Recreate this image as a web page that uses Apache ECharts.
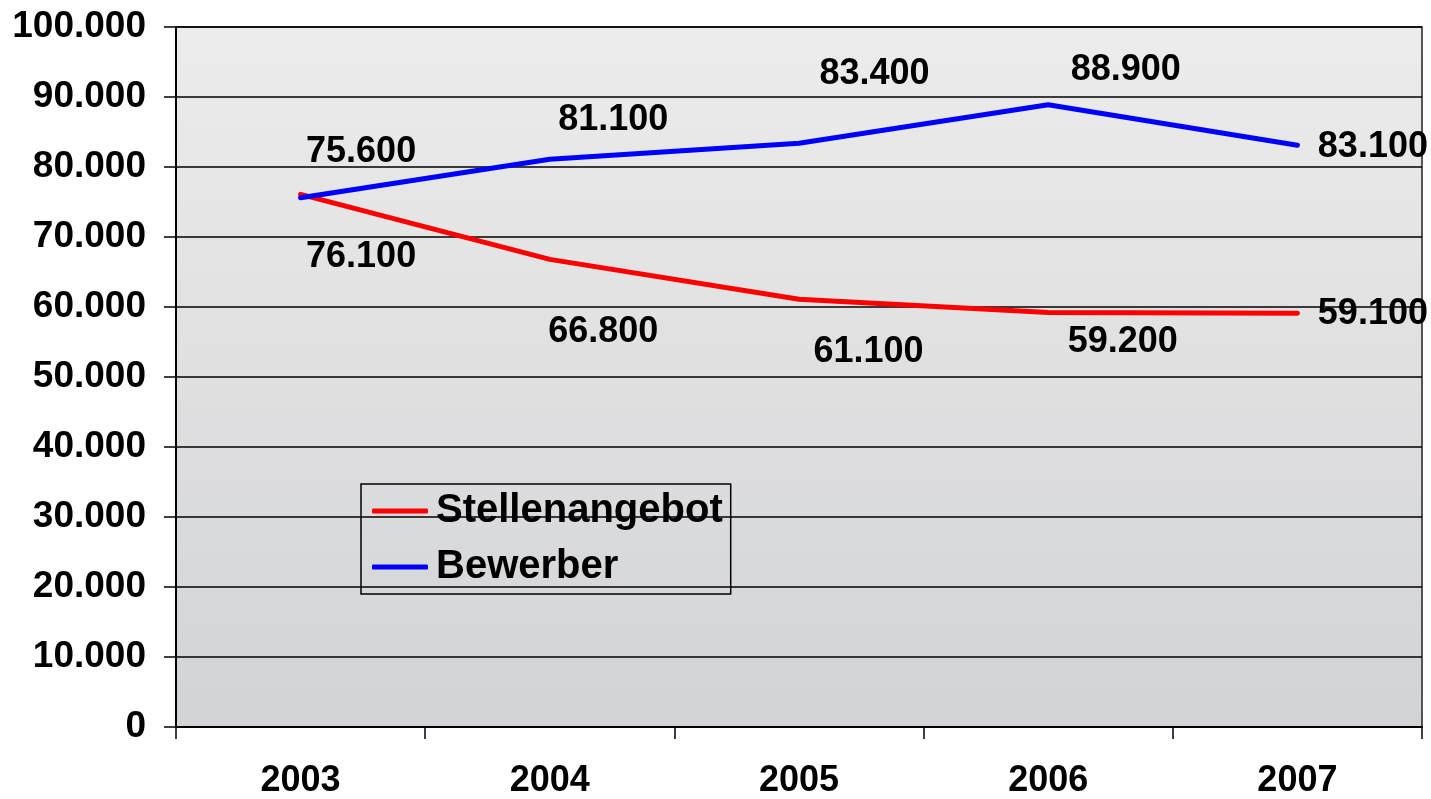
<!DOCTYPE html>
<html>
<head>
<meta charset="utf-8">
<script src="https://cdn.jsdelivr.net/npm/echarts@6/dist/echarts.min.js"></script>
<style>
  html, body { margin: 0; padding: 0; background: #fff; }
  #chart { width: 1431px; height: 799px; }
</style>
</head>
<body>
<div id="chart"></div>
<script>
const years = ['2003', '2004', '2005', '2006', '2007']
const stellenangebot = [76100, 66800, 61100, 59200, 59100]
const bewerber = [75600, 81100, 83400, 88900, 83100]

// where each value label sits, relative to its point (px)
const stellenLabelOffsets = [[61, 63], [54, 73], [70, 53], [75, 30], [76, 1]]
const bewerberLabelOffsets = [[61, -45], [64, -39], [76, -69], [78, -34], [76, 2]]

const FONT = '"Liberation Sans", Arial, sans-serif'

function fmt (v) {
  return v === 0 ? '0' : v.toLocaleString('de-DE')
}

function withLabels (values, offsets) {
  return values.map((v, i) => ({
    value: v,
    label: { offset: offsets[i] }
  }))
}

const chart = echarts.init(document.getElementById('chart'))

const labelStyle = {
  show: true,
  position: [0, 0],
  align: 'center',
  verticalAlign: 'middle',
  color: '#000',
  fontFamily: FONT,
  fontWeight: 'bold',
  fontSize: 36,
  formatter: p => fmt(p.value)
}

chart.setOption({
  animation: false,
  backgroundColor: '#fff',
  grid: {
    left: 176,
    top: 27,
    right: 9,
    bottom: 71,
    show: true,
    borderColor: '#222',
    borderWidth: 1.5,
    backgroundColor: new echarts.graphic.LinearGradient(0, 0, 0, 1, [
      { offset: 0, color: '#ececec' },
      { offset: 1, color: '#d2d3d5' }
    ])
  },
  legend: {
    orient: 'vertical',
    left: 361,
    top: 484,
    padding: [7, 8, 7, 11],
    itemGap: 16,
    itemWidth: 56,
    itemHeight: 5,
    icon: 'roundRect',
    borderColor: '#000',
    borderWidth: 1.5,
    backgroundColor: 'transparent',
    textStyle: {
      color: '#000',
      fontFamily: FONT,
      fontWeight: 'bold',
      fontSize: 40,
      padding: [0, 0, 0, 3]
    },
    data: ['Stellenangebot', 'Bewerber']
  },
  xAxis: {
    type: 'category',
    data: years,
    boundaryGap: true,
    axisLine: { lineStyle: { color: '#000', width: 2 } },
    axisTick: { show: true, length: 12, inside: false, lineStyle: { color: '#000', width: 1.5 } },
    axisLabel: {
      margin: 36,
      color: '#000',
      fontFamily: FONT,
      fontWeight: 'bold',
      fontSize: 36
    },
    splitLine: { show: false }
  },
  yAxis: {
    type: 'value',
    min: 0,
    max: 100000,
    interval: 10000,
    axisLine: { show: true, lineStyle: { color: '#000', width: 2 } },
    axisTick: { show: true, length: 12, lineStyle: { color: '#000', width: 1.5 } },
    axisLabel: {
      margin: 30,
      color: '#000',
      fontFamily: FONT,
      fontWeight: 'bold',
      fontSize: 37,
      formatter: v => fmt(v)
    },
    splitLine: { show: true, lineStyle: { color: '#000', width: 1.5 } }
  },
  series: [
    {
      name: 'Stellenangebot',
      type: 'line',
      data: withLabels(stellenangebot, stellenLabelOffsets),
      symbol: 'circle',
      symbolSize: 1,
      showSymbol: true,
      itemStyle: { color: '#ff0000' },
      lineStyle: { color: '#ff0000', width: 5, cap: 'round' },
      label: labelStyle,
      z: 3
    },
    {
      name: 'Bewerber',
      type: 'line',
      data: withLabels(bewerber, bewerberLabelOffsets),
      symbol: 'circle',
      symbolSize: 1,
      showSymbol: true,
      itemStyle: { color: '#0000ff' },
      lineStyle: { color: '#0000ff', width: 5, cap: 'round' },
      label: labelStyle,
      z: 4
    }
  ]
})
</script>
</body>
</html>
